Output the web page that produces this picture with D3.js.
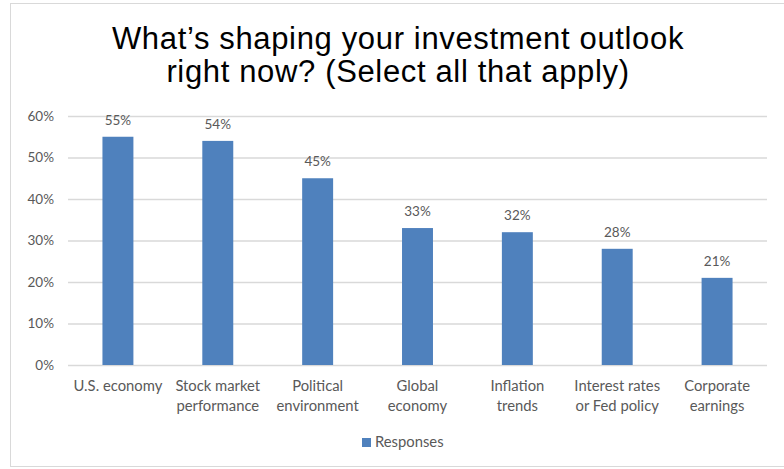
<!DOCTYPE html>
<html>
<head>
<meta charset="utf-8">
<script src="https://cdn.jsdelivr.net/npm/d3@7"></script>
<style>
  html, body { margin: 0; padding: 0; background: #fff; }
  svg { display: block; }
</style>
</head>
<body>
<svg id="chart" width="784" height="469"></svg>
<script>
// Survey responses: share of respondents selecting each factor
const categories = [
  ["U.S. economy"],
  ["Stock market", "performance"],
  ["Political", "environment"],
  ["Global", "economy"],
  ["Inflation", "trends"],
  ["Interest rates", "or Fed policy"],
  ["Corporate", "earnings"]
];
const values = [55, 54, 45, 33, 32, 28, 21];
const yTicks = [0, 10, 20, 30, 40, 50, 60];
const titleLines = ["What\u2019s shaping your investment outlook", "right now? (Select all that apply)"];
const seriesName = "Responses";

const W = 784, H = 469;
const plot = { left: 68, right: 767, top: 116, bottom: 365 };
const textColor = "#595959";
const gridColor = "#d9d9d9";
const barColor = "#4f81bd";
const bodyFont = "Lato, 'Open Sans', sans-serif";

const svg = d3.select("#chart");

// outer chart frame
svg.append("rect")
  .attr("x", 10.5).attr("y", 3.5)
  .attr("width", 790).attr("height", 463)
  .attr("fill", "#fff").attr("stroke", gridColor).attr("stroke-width", 1);

// title
svg.append("g").selectAll("text").data(titleLines).join("text")
  .attr("x", 398).attr("y", (d, i) => 48.5 + i * 33)
  .attr("text-anchor", "middle")
  .attr("font-family", "'Liberation Sans', Arial, sans-serif")
  .attr("font-size", 31)
  .attr("letter-spacing", 0.65)
  .attr("fill", "#000")
  .text(d => d);

const x = d3.scaleBand()
  .domain(d3.range(categories.length))
  .range([plot.left, plot.right])
  .paddingInner(0.69).paddingOuter(0.345);

const y = d3.scaleLinear().domain([0, 60]).range([plot.bottom, plot.top]);

// horizontal gridlines and percentage ticks
const yAxis = d3.axisLeft(y).tickValues(yTicks)
  .tickSize(-(plot.right - plot.left)).tickPadding(14)
  .tickFormat(d => d + "%");
const gy = svg.append("g").attr("transform", `translate(${plot.left},0)`).call(yAxis);
gy.select(".domain").remove();
gy.selectAll(".tick line").attr("stroke", gridColor).attr("stroke-width", 1.3);
gy.selectAll(".tick text")
  .attr("fill", textColor).attr("font-family", bodyFont).attr("font-size", 13.5);

// bars
svg.append("g").selectAll("rect").data(values).join("rect")
  .attr("x", (d, i) => x(i))
  .attr("y", d => y(d))
  .attr("width", x.bandwidth())
  .attr("height", d => y(0) - y(d))
  .attr("fill", barColor);

// value labels
svg.append("g").selectAll("text").data(values).join("text")
  .attr("x", (d, i) => x(i) + x.bandwidth() / 2)
  .attr("y", d => y(d) - 12)
  .attr("text-anchor", "middle")
  .attr("fill", textColor).attr("font-family", bodyFont).attr("font-size", 13.5)
  .text(d => d + "%");

// category labels
const step = (plot.right - plot.left) / categories.length;
const gx = svg.append("g");
categories.forEach((lines, i) => {
  const cx = plot.left + step * (i + 0.5);
  const t = gx.append("text")
    .attr("text-anchor", "middle")
    .attr("fill", textColor).attr("font-family", bodyFont).attr("font-size", 14.8);
  lines.forEach((ln, j) => {
    t.append("tspan").attr("x", cx).attr("y", 391 + j * 20).text(ln);
  });
});

// legend
const lg = svg.append("g").attr("transform", "translate(362,438)");
lg.append("rect").attr("width", 9).attr("height", 9).attr("fill", barColor);
lg.append("text").attr("x", 13).attr("y", 9)
  .attr("fill", textColor).attr("font-family", bodyFont).attr("font-size", 14.8)
  .text(seriesName);
</script>
</body>
</html>
